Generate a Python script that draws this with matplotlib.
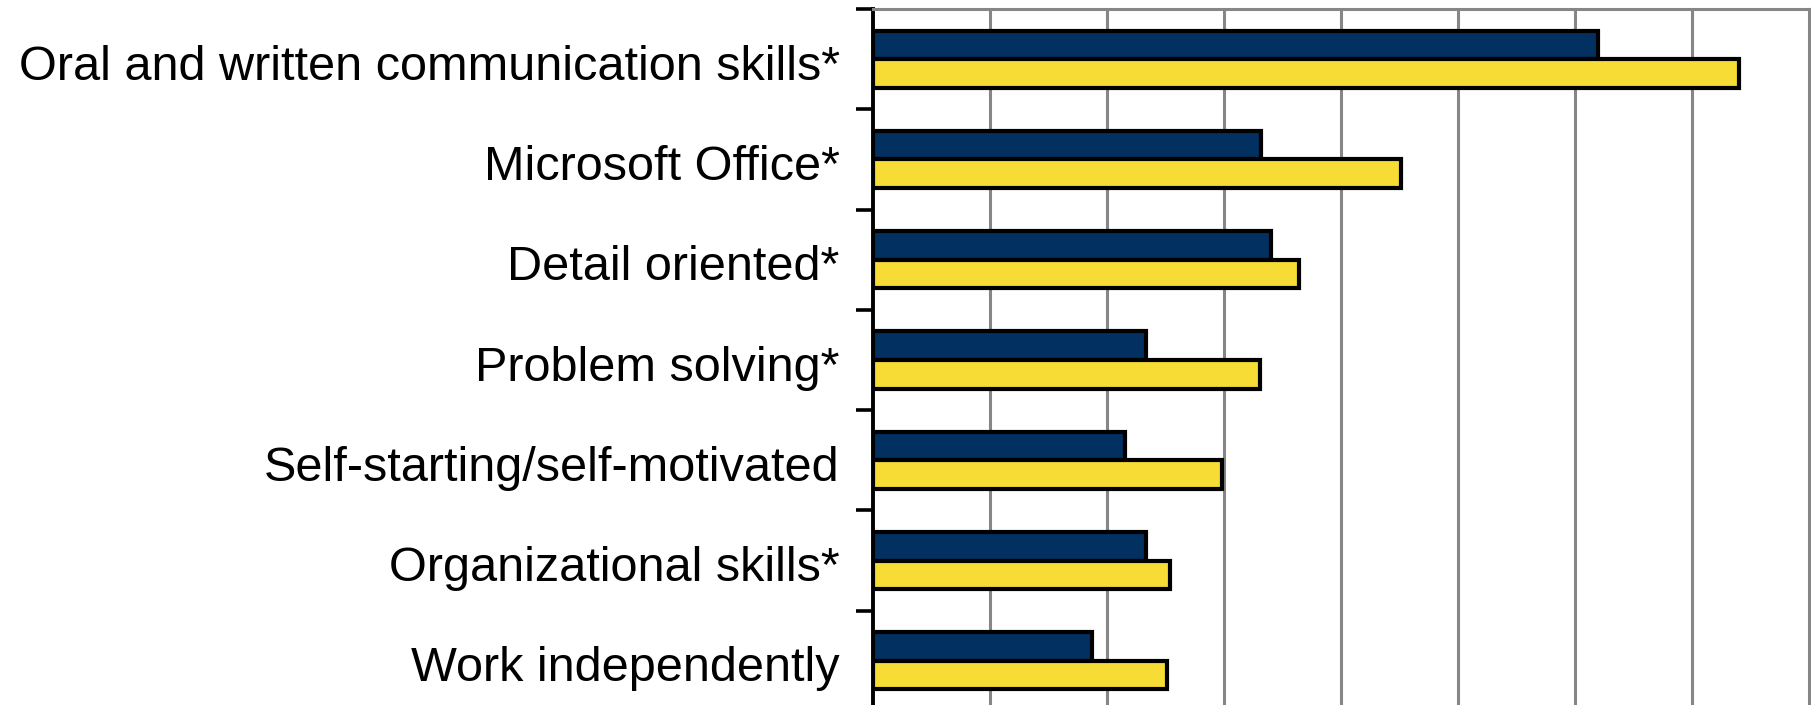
import numpy as np
import matplotlib
matplotlib.use('Agg')
import matplotlib.pyplot as plt

plt.rcParams['font.family'] = ['Liberation Sans', 'DejaVu Sans']

categories = [
    'Oral and written communication skills*',
    'Microsoft Office*',
    'Detail oriented*',
    'Problem solving*',
    'Self-starting/self-motivated',
    'Organizational skills*',
    'Work independently',
]
series_navy = [62.0, 33.2, 34.0, 23.3, 21.5, 23.3, 18.7]
series_yellow = [74.0, 45.1, 36.4, 33.1, 29.8, 25.4, 25.1]

NAVY = '#023061'
YELLOW = '#F6DC35'
GRID = '#868686'

fig = plt.figure(figsize=(18.11, 7.05), dpi=100)
fig.patch.set_facecolor('white')
ax = fig.add_axes([873 / 1811, -6 / 705, 936 / 1811, 702 / 705])

y = np.arange(len(categories))
h = 0.285
ax.barh(y - h / 2, series_navy, height=h, color=NAVY,
        edgecolor='black', linewidth=3.0, zorder=3)
ax.barh(y + h / 2, series_yellow, height=h, color=YELLOW,
        edgecolor='black', linewidth=3.0, zorder=3)

ax.set_xlim(0, 80)
ax.set_ylim(len(categories) - 0.5, -0.5)

ax.set_xticks(np.arange(10, 80, 10))
ax.xaxis.grid(True, color=GRID, linewidth=2.2, zorder=0)
ax.tick_params(axis='x', length=0, labelbottom=False)

# category labels centred on each group, tick marks on the boundaries
ax.set_yticks(y + 0.03)
ax.set_yticklabels(categories, fontsize=35)
ax.tick_params(axis='y', which='major', length=0, pad=24)
ax.set_yticks(np.arange(-0.5, len(categories) - 0.4, 1), minor=True)
ax.tick_params(axis='y', which='minor', length=12, width=2.6, color='black')

ax.spines['left'].set_linewidth(2.8)
ax.spines['left'].set_color('black')
for side in ['top', 'right']:
    ax.spines[side].set_color(GRID)
    ax.spines[side].set_linewidth(2.2)
ax.spines['bottom'].set_visible(False)

plt.savefig('out.png', dpi=100, facecolor='white')
